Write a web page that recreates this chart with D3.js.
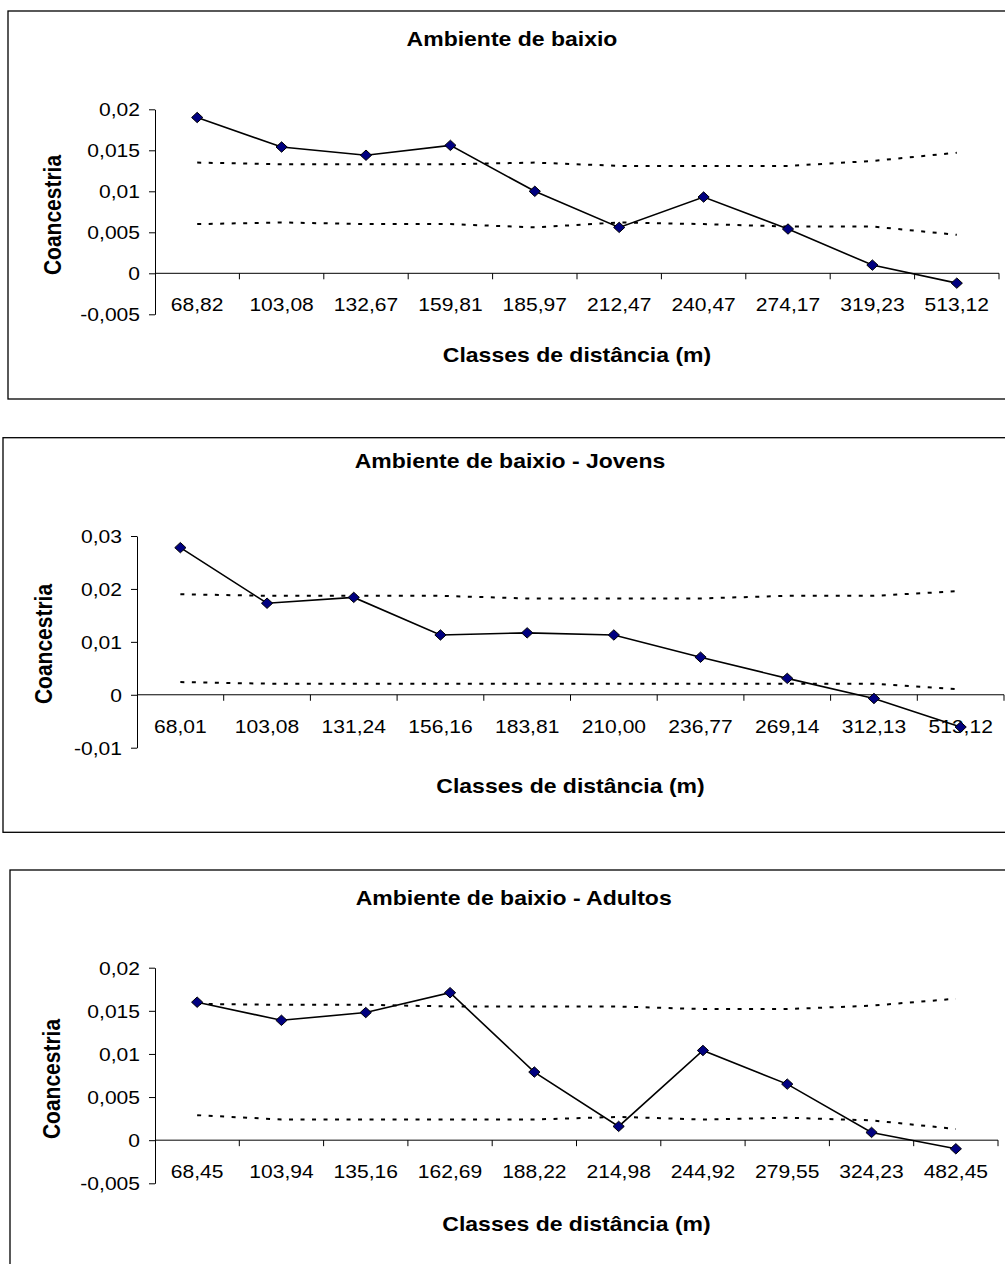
<!DOCTYPE html>
<html>
<head>
<meta charset="utf-8">
<script src="https://cdn.jsdelivr.net/npm/d3@7"></script>
<style>
  html, body { margin: 0; padding: 0; background: #fff; }
  svg { display: block; }
  text { font-family: "Liberation Sans", Arial, sans-serif; fill: #000; }
</style>
</head>
<body>
<svg id="chart" width="1005" height="1264"></svg>
<script>
// ---- data -------------------------------------------------------------
const titles = [
  "Ambiente de baixio",
  "Ambiente de baixio - Jovens",
  "Ambiente de baixio - Adultos"
];
const xAxisTitle = "Classes de distância (m)";
const yAxisTitle = "Coancestria";

const classesTodos = ["68,82","103,08","132,67","159,81","185,97","212,47","240,47","274,17","319,23","513,12"];
const coancTodos   = [0.0190, 0.0154, 0.0144, 0.0156, 0.0100, 0.0056, 0.0093, 0.0054, 0.0010, -0.0012];
const supTodos     = [0.0135, 0.0133, 0.0133, 0.0133, 0.0135, 0.0131, 0.0131, 0.0131, 0.0137, 0.0147];
const infTodos     = [0.0060, 0.0062, 0.0060, 0.0060, 0.0056, 0.0062, 0.0060, 0.0057, 0.0057, 0.0047];

const classesJovens = ["68,01","103,08","131,24","156,16","183,81","210,00","236,77","269,14","312,13","513,12"];
const coancJovens   = [0.0278, 0.0173, 0.0184, 0.0113, 0.0117, 0.0113, 0.0071, 0.0031, -0.0007, -0.0061];
const supJovens     = [0.0190, 0.0187, 0.0187, 0.0187, 0.0182, 0.0182, 0.0182, 0.0187, 0.0187, 0.0196];
const infJovens     = [0.0024, 0.0021, 0.0021, 0.0021, 0.0021, 0.0021, 0.0021, 0.0021, 0.0021, 0.0010];

const classesAdultos = ["68,45","103,94","135,16","162,69","188,22","214,98","244,92","279,55","324,23","482,45"];
const coancAdultos   = [0.0160, 0.0139, 0.0148, 0.0171, 0.0079, 0.0016, 0.0104, 0.0065, 0.0009, -0.0010];
const supAdultos     = [0.0158, 0.0157, 0.0157, 0.0155, 0.0155, 0.0155, 0.0152, 0.0152, 0.0156, 0.0164];
const infAdultos     = [0.0029, 0.0024, 0.0024, 0.0024, 0.0024, 0.0027, 0.0024, 0.0026, 0.0023, 0.0013];

const yTicksSmall  = [-0.005, 0, 0.005, 0.01, 0.015, 0.02];
const yLabelsSmall = ["-0,005", "0", "0,005", "0,01", "0,015", "0,02"];
const yTicksLarge  = [-0.01, 0, 0.01, 0.02, 0.03];
const yLabelsLarge = ["-0,01", "0", "0,01", "0,02", "0,03"];

// ---- layout (one block per panel) ------------------------------------
const panels = [
  { title: titles[0], cats: classesTodos, vals: coancTodos, sup: supTodos, inf: infTodos,
    yTicks: yTicksSmall, yLabels: yLabelsSmall,
    frame: { x0: 8, y0: 11, x1: 1030, y1: 399 },
    plot: { left: 155, right: 999, top: 109.3, bottom: 314.3 },
    titleXY: [512, 46], xTitleXY: [577, 361.5], yTitleXY: [52, 215] },
  { title: titles[1], cats: classesJovens, vals: coancJovens, sup: supJovens, inf: infJovens,
    yTicks: yTicksLarge, yLabels: yLabelsLarge,
    frame: { x0: 3, y0: 437.7, x1: 1030, y1: 832.3 },
    plot: { left: 137, right: 1004, top: 536, bottom: 747.7 },
    titleXY: [510, 468.3], xTitleXY: [570.5, 793], yTitleXY: [43, 644] },
  { title: titles[2], cats: classesAdultos, vals: coancAdultos, sup: supAdultos, inf: infAdultos,
    yTicks: yTicksSmall, yLabels: yLabelsSmall,
    frame: { x0: 10, y0: 870, x1: 1030, y1: 1300 },
    plot: { left: 155, right: 998, top: 967.7, bottom: 1183.3 },
    titleXY: [513.7, 905], xTitleXY: [576.5, 1230.5], yTitleXY: [51, 1079] }
];

const SX = 1.17;          // horizontal glyph stretch
const svg = d3.select("#chart");

panels.forEach(p => {
  const g = svg.append("g");
  const f = p.frame;

  g.append("rect")
    .attr("x", f.x0).attr("y", f.y0)
    .attr("width", f.x1 - f.x0).attr("height", f.y1 - f.y0)
    .attr("fill", "#fff").attr("stroke", "#000").attr("stroke-width", 1.3);

  const x = d3.scaleBand().domain(p.cats).range([p.plot.left, p.plot.right]).padding(0);
  const yMin = d3.min(p.yTicks), yMax = d3.max(p.yTicks);
  const y = d3.scaleLinear().domain([yMin, yMax]).range([p.plot.bottom, p.plot.top]);
  const cx = c => x(c) + x.bandwidth() / 2;

  // y axis
  const yAxis = d3.axisLeft(y).tickValues(p.yTicks).tickSize(6).tickSizeOuter(0)
    .tickFormat((d, i) => p.yLabels[p.yTicks.indexOf(d)]);
  const ya = g.append("g").attr("transform", `translate(${p.plot.left},0)`).call(yAxis);
  ya.select(".domain").attr("stroke", "#000").attr("stroke-width", 1);
  ya.selectAll(".tick line").attr("stroke", "#000");
  ya.selectAll(".tick text")
    .attr("x", -15 / SX).attr("dy", "0.36em")
    .attr("transform", `scale(${SX},1)`)
    .style("font-size", "18px").attr("fill", "#000");

  // x axis at zero, ticks on category boundaries
  const y0 = y(0);
  g.append("line")
    .attr("x1", p.plot.left).attr("x2", p.plot.right)
    .attr("y1", y0).attr("y2", y0)
    .attr("stroke", "#000").attr("stroke-width", 1);
  const bounds = p.cats.map(c => x(c)).concat([x(p.cats[p.cats.length - 1]) + x.bandwidth()]);
  g.selectAll(".xtick").data(bounds.slice(1)).enter().append("line")
    .attr("x1", d => d).attr("x2", d => d)
    .attr("y1", y0).attr("y2", y0 + 6)
    .attr("stroke", "#000").attr("stroke-width", 1);
  g.selectAll(".xlab").data(p.cats).enter().append("text")
    .attr("transform", d => `translate(${cx(d)},${y0 + 38}) scale(${SX},1)`)
    .attr("text-anchor", "middle")
    .style("font-size", "18px")
    .text(d => d);

  // confidence envelope (dotted)
  const line = d3.line().x((d, i) => cx(p.cats[i])).y(d => y(d));
  [p.sup, p.inf].forEach(arr => {
    g.append("path").datum(arr)
      .attr("d", line)
      .attr("fill", "none").attr("stroke", "#000")
      .attr("stroke-width", 2).attr("stroke-dasharray", "4,7.5");
  });

  // observed coancestry
  g.append("path").datum(p.vals)
    .attr("d", line)
    .attr("fill", "none").attr("stroke", "#000").attr("stroke-width", 1.6);

  const hw = 5.6, hh = 5.2;
  g.selectAll(".mk").data(p.vals).enter().append("path")
    .attr("transform", (d, i) => `translate(${cx(p.cats[i])},${y(d)})`)
    .attr("d", `M0,${-hh}L${hw},0L0,${hh}L${-hw},0Z`)
    .attr("fill", "#000080").attr("stroke", "#000").attr("stroke-width", 1);

  // titles
  g.append("text")
    .attr("transform", `translate(${p.titleXY[0]},${p.titleXY[1]}) scale(1.15,1)`)
    .attr("text-anchor", "middle")
    .style("font-size", "20px").style("font-weight", "bold")
    .text(p.title);
  g.append("text")
    .attr("transform", `translate(${p.xTitleXY[0]},${p.xTitleXY[1]}) scale(1.15,1)`)
    .attr("text-anchor", "middle")
    .style("font-size", "20px").style("font-weight", "bold")
    .text(xAxisTitle);
  g.append("text")
    .attr("transform", `translate(${p.yTitleXY[0]},${p.yTitleXY[1]}) scale(1.15,1) rotate(-90)`)
    .attr("text-anchor", "middle").attr("dy", "0.36em")
    .style("font-size", "21px").style("font-weight", "bold")
    .text(yAxisTitle);
});
</script>
</body>
</html>
